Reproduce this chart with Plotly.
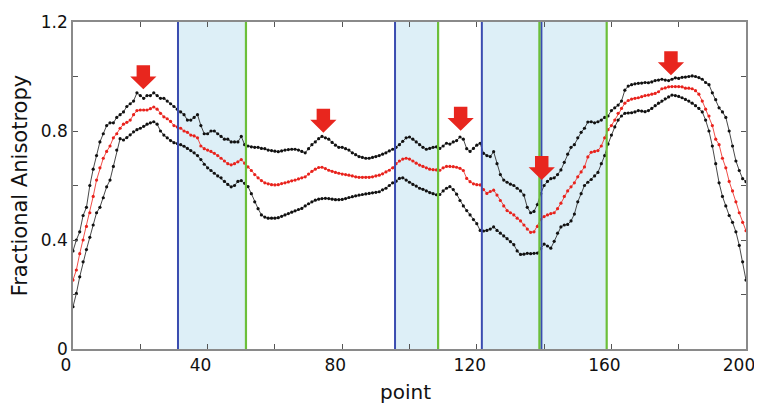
import plotly.graph_objects as go

# ---- data ----
points = list(range(0, 201))

upper = [0.36, 0.40, 0.43, 0.49, 0.52, 0.60, 0.66, 0.71, 0.76, 0.79,
         0.82, 0.83, 0.83, 0.85, 0.86, 0.87, 0.89, 0.90, 0.91, 0.94,
         0.93, 0.92, 0.93, 0.93, 0.94, 0.93, 0.92, 0.92, 0.91, 0.90,
         0.89, 0.88, 0.87, 0.86, 0.84, 0.84, 0.85, 0.86, 0.82, 0.79,
         0.79, 0.80, 0.80, 0.79, 0.78, 0.77, 0.77, 0.76, 0.76, 0.76,
         0.78, 0.75, 0.745, 0.742, 0.74, 0.74, 0.736, 0.735, 0.73, 0.728,
         0.726, 0.724, 0.727, 0.73, 0.732, 0.733, 0.733, 0.73, 0.725, 0.72,
         0.735, 0.75, 0.76, 0.772, 0.78, 0.775, 0.77, 0.758, 0.748, 0.74,
         0.74, 0.735, 0.73, 0.72, 0.713, 0.706, 0.703, 0.70, 0.70, 0.703,
         0.706, 0.71, 0.715, 0.72, 0.727, 0.733, 0.74, 0.75, 0.762, 0.775,
         0.778, 0.77, 0.76, 0.75, 0.74, 0.733, 0.736, 0.74, 0.742, 0.736,
         0.745, 0.755, 0.752, 0.76, 0.765, 0.778, 0.77, 0.735, 0.725, 0.736,
         0.748, 0.755, 0.718, 0.71, 0.706, 0.724, 0.68, 0.64, 0.62, 0.612,
         0.605, 0.60, 0.59, 0.58, 0.565, 0.52, 0.50, 0.505, 0.53, 0.57,
         0.60, 0.615, 0.625, 0.628, 0.64, 0.657, 0.685, 0.715, 0.74, 0.75,
         0.775, 0.795, 0.81, 0.833, 0.834, 0.83, 0.834, 0.84, 0.85, 0.855,
         0.875, 0.885, 0.895, 0.91, 0.95, 0.965, 0.97, 0.973, 0.975, 0.976,
         0.978, 0.977, 0.98, 0.985, 0.987, 0.99, 0.987, 0.985, 0.99, 0.995,
         0.993, 0.997, 0.998, 1.0, 1.002, 1.0, 0.996, 0.99, 0.978, 0.97,
         0.94, 0.915, 0.885, 0.87, 0.85, 0.80, 0.745, 0.69, 0.655, 0.625,
         0.614]

middle = [0.253, 0.29, 0.35, 0.40, 0.45, 0.50, 0.56, 0.62, 0.665, 0.70,
          0.725, 0.745, 0.775, 0.79, 0.81, 0.825, 0.832, 0.84, 0.86, 0.875,
          0.877, 0.877, 0.877, 0.882, 0.888, 0.88, 0.865, 0.852, 0.845, 0.835,
          0.82, 0.815, 0.81, 0.80, 0.795, 0.785, 0.782, 0.775, 0.745, 0.735,
          0.73, 0.725, 0.718, 0.71, 0.70, 0.69, 0.68, 0.676, 0.68, 0.687,
          0.695, 0.682, 0.668, 0.655, 0.64, 0.628, 0.618, 0.61, 0.606, 0.603,
          0.602, 0.603, 0.607, 0.61, 0.613, 0.617, 0.62, 0.624, 0.628, 0.632,
          0.642, 0.652, 0.66, 0.666, 0.667, 0.662, 0.656, 0.652, 0.648, 0.645,
          0.642, 0.64, 0.638, 0.635, 0.632, 0.63, 0.63, 0.63, 0.63, 0.632,
          0.635, 0.638, 0.643, 0.65, 0.656, 0.665, 0.68, 0.69, 0.697, 0.70,
          0.697, 0.69, 0.682, 0.675, 0.67, 0.665, 0.66, 0.658, 0.657, 0.656,
          0.665, 0.67, 0.67, 0.669, 0.667, 0.663, 0.655, 0.626, 0.614, 0.606,
          0.603, 0.602, 0.585, 0.571, 0.578, 0.583, 0.565, 0.545, 0.525, 0.508,
          0.50, 0.492, 0.48, 0.47, 0.455, 0.44, 0.428, 0.43, 0.45, 0.475,
          0.486, 0.492, 0.497, 0.50, 0.515, 0.535, 0.56, 0.58, 0.595, 0.61,
          0.632, 0.65, 0.668, 0.705, 0.722, 0.725, 0.728, 0.745, 0.775, 0.805,
          0.82, 0.84, 0.865, 0.883, 0.902, 0.912, 0.917, 0.92, 0.922, 0.926,
          0.93, 0.932, 0.935, 0.938, 0.944, 0.955, 0.958, 0.962, 0.963, 0.963,
          0.963, 0.962, 0.957, 0.957, 0.955, 0.948, 0.935, 0.91, 0.88, 0.855,
          0.82, 0.77, 0.75, 0.70, 0.665, 0.615, 0.58, 0.54, 0.50, 0.465,
          0.434]

lower = [0.155, 0.204, 0.265, 0.32, 0.365, 0.41, 0.455, 0.50, 0.52, 0.555,
         0.595, 0.62, 0.67, 0.73, 0.772, 0.767, 0.776, 0.786, 0.797, 0.805,
         0.81, 0.817, 0.825, 0.83, 0.834, 0.825, 0.80, 0.785, 0.775, 0.765,
         0.757, 0.754, 0.75, 0.744, 0.736, 0.728, 0.72, 0.71, 0.695, 0.678,
         0.665, 0.655, 0.645, 0.635, 0.628, 0.615, 0.604, 0.595, 0.60, 0.615,
         0.618, 0.608, 0.596, 0.57, 0.54, 0.515, 0.492, 0.484, 0.48, 0.48,
         0.48, 0.482, 0.487, 0.492, 0.497, 0.502, 0.507, 0.512, 0.516, 0.525,
         0.533, 0.54, 0.546, 0.55, 0.552, 0.553, 0.552, 0.55, 0.548, 0.548,
         0.549, 0.552, 0.556, 0.559, 0.562, 0.565, 0.567, 0.569, 0.571, 0.573,
         0.575, 0.577, 0.584, 0.59, 0.60, 0.61, 0.616, 0.626, 0.628, 0.62,
         0.612, 0.604, 0.598, 0.59, 0.586, 0.58, 0.574, 0.57, 0.566, 0.567,
         0.58, 0.59, 0.596, 0.585, 0.568, 0.545, 0.525, 0.508, 0.492, 0.475,
         0.46, 0.435, 0.433, 0.435, 0.44, 0.448, 0.435, 0.425, 0.415, 0.405,
         0.394, 0.383, 0.36, 0.347, 0.348, 0.351, 0.35, 0.351, 0.352, 0.368,
         0.385, 0.378, 0.37, 0.395, 0.425, 0.448, 0.455, 0.457, 0.47, 0.495,
         0.54, 0.57, 0.60, 0.612, 0.622, 0.635, 0.648, 0.68, 0.71, 0.752,
         0.785, 0.815, 0.84, 0.855, 0.865, 0.866, 0.867, 0.87, 0.875, 0.873,
         0.871, 0.875, 0.883, 0.893, 0.902, 0.91, 0.918, 0.925, 0.932, 0.93,
         0.927, 0.922, 0.916, 0.91, 0.902, 0.893, 0.883, 0.87, 0.84, 0.80,
         0.745, 0.68, 0.61, 0.56, 0.525, 0.49, 0.465, 0.43, 0.38, 0.32,
         0.253]

region_start = [31.2, 95.7, 121.5, 139.2]   # blue lines
region_end = [51.4, 108.5, 138.6, 158.6]    # green lines

arrow_x = [20.9, 74.4, 115.2, 139.3, 177.7]
arrow_tip = [0.953, 0.794, 0.801, 0.620, 1.005]

x_tick_vals = [0, 40, 80, 120, 160, 200]
x_tick_text = ["0", "40", "80", "120", "160", "200"]
y_tick_vals = [0, 0.4, 0.8, 1.2]
y_tick_text = ["0", "0.4", "0.8", "1.2"]

# ---- figure ----
BLUE = "#3a4cb0"
GREEN = "#6cbf3a"
SHADE = "#ddeff7"
ARROW = "#e8261e"

fig = go.Figure()

fig.add_trace(go.Scatter(x=points, y=upper, mode="lines+markers",
                         line=dict(color="#333333", width=0.9),
                         marker=dict(color="#111111", size=3.2), showlegend=False))
fig.add_trace(go.Scatter(x=points, y=middle, mode="lines+markers",
                         line=dict(color="#ee3a33", width=0.9),
                         marker=dict(color="#e8221c", size=3.2), showlegend=False))
fig.add_trace(go.Scatter(x=points, y=lower, mode="lines+markers",
                         line=dict(color="#333333", width=0.9),
                         marker=dict(color="#111111", size=3.2), showlegend=False))

shapes = []
for s, e in zip(region_start, region_end):
    shapes.append(dict(type="rect", xref="x", yref="y", x0=s, x1=e, y0=0, y1=1.2,
                       fillcolor=SHADE, line=dict(width=0), layer="below"))
# join the adjacent regions (continuous shading)
for s, e in zip(region_end[:-1], region_start[1:]):
    if s < e and e - s < 1.5:
        shapes.append(dict(type="rect", xref="x", yref="y", x0=s, x1=e, y0=0, y1=1.2,
                           fillcolor=SHADE, line=dict(width=0), layer="below"))
for s in region_start:
    shapes.append(dict(type="line", xref="x", yref="y", x0=s, x1=s, y0=0, y1=1.2,
                       line=dict(color=BLUE, width=2), layer="above"))
for e in region_end:
    shapes.append(dict(type="line", xref="x", yref="y", x0=e, x1=e, y0=0, y1=1.2,
                       line=dict(color=GREEN, width=2.2), layer="above"))

# block arrows (sizes in data units)
shaft_hw, head_hw, total_h, head_h = 2.0, 3.9, 0.088, 0.047
for ax, at in zip(arrow_x, arrow_tip):
    top = at + total_h
    neck = at + head_h
    path = (f"M {ax - shaft_hw} {top} L {ax + shaft_hw} {top} L {ax + shaft_hw} {neck} "
            f"L {ax + head_hw} {neck} L {ax} {at} L {ax - head_hw} {neck} "
            f"L {ax - shaft_hw} {neck} Z")
    shapes.append(dict(type="path", xref="x", yref="y", path=path,
                       fillcolor=ARROW, line=dict(width=0), layer="above"))

axis_common = dict(showgrid=False, zeroline=False, showline=True, mirror="ticks",
                   linecolor="#8a8a8a", linewidth=1.5, ticks="inside", ticklen=5,
                   tickwidth=1.2, tickcolor="#555555", automargin=False,
                   ticklabeloverflow="allow",
                   tickfont=dict(family="DejaVu Sans", size=17, color="#111111"))

# page body has an 8px default margin, so the figure is sized/placed to fit
# exactly inside the 762x411 window without any scrolling
fig.update_layout(
    width=746, height=395,
    margin=dict(l=65, r=8, t=14, b=54, autoexpand=False),
    paper_bgcolor="white", plot_bgcolor="white",
    shapes=shapes,
    xaxis=dict(range=[0, 200], tickvals=x_tick_vals, ticktext=x_tick_text,
               ticklabelshift=-7,
               minor=dict(tickvals=[20, 60, 100, 140, 180], ticks="inside",
                          ticklen=5, tickcolor="#555555", tickwidth=1.2),
               **axis_common),
    yaxis=dict(range=[0, 1.2], tickvals=y_tick_vals, ticktext=y_tick_text,
               minor=dict(tickvals=[0.2, 0.6, 1.0], ticks="inside",
                          ticklen=5, tickcolor="#555555", tickwidth=1.2),
               **axis_common),
    annotations=[
        dict(text="point", xref="paper", yref="paper", x=0.494, y=-0.13,
             xanchor="center", yanchor="middle", showarrow=False,
             font=dict(family="DejaVu Sans", size=20, color="#111111")),
        dict(text="Fractional Anisotropy", xref="paper", yref="paper", x=-0.079,
             y=0.5, xanchor="center", yanchor="middle", textangle=-90,
             showarrow=False,
             font=dict(family="DejaVu Sans", size=21, color="#111111")),
    ],
)

fig.write_html("out.html")
